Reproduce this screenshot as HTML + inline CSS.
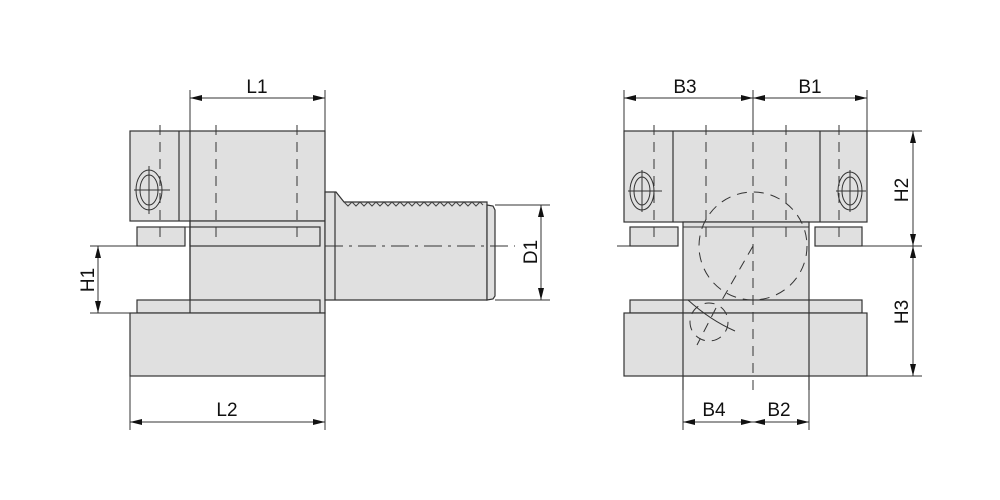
<!DOCTYPE html>
<html><head><meta charset="utf-8"><style>
html,body{margin:0;padding:0;background:#fff;}
svg{display:block;}
text{font-family:"Liberation Sans",sans-serif;font-size:19px;fill:#111;}
</style></head><body>
<svg width="1000" height="500" viewBox="0 0 1000 500" xmlns="http://www.w3.org/2000/svg">
<defs>
<marker id="a" viewBox="0 0 12 6" refX="12" refY="3" markerWidth="12" markerHeight="6" orient="auto-start-reverse" markerUnits="userSpaceOnUse"><path d="M0,0 L12,3 L0,6 z" fill="#111"/></marker>
</defs>
<g fill="#e0e0e0" stroke="#333" stroke-width="1.2">
<!-- LEFT VIEW -->
<rect x="130" y="131" width="195" height="90"/>
<line x1="179" y1="131" x2="179" y2="221"/>
<rect x="190" y="221" width="135" height="92"/>
<rect x="137" y="227" width="48" height="19"/>
<rect x="190" y="227" width="130" height="19"/>
<rect x="137" y="300" width="183" height="13"/>
<rect x="130" y="313" width="195" height="63"/>
<path d="M325,192 L336,192 L344,202 L487,202 L487,300 L325,300 Z"/>
<line x1="335" y1="192" x2="335" y2="300"/>
<path d="M487,205 L493,206 L495,210 L495,296 L493,299 L487,300 Z"/>
<line x1="190" y1="131" x2="190" y2="313"/>
<!-- RIGHT VIEW -->
<rect x="624" y="131" width="243" height="91"/>
<line x1="673" y1="131" x2="673" y2="222"/>
<line x1="820" y1="131" x2="820" y2="222"/>
<rect x="683" y="222" width="126" height="154"/>
<rect x="630" y="227" width="48" height="19"/>
<rect x="815" y="227" width="47" height="19"/>
<rect x="630" y="300" width="232" height="13"/>
<rect x="624" y="313" width="243" height="63"/>
<line x1="683" y1="300" x2="683" y2="390"/>
<line x1="809" y1="300" x2="809" y2="390"/>
</g>
<g fill="none" stroke="#333" stroke-width="1">
<path d="M344,202 l4,4 l4,-4 l4,4 l4,-4 l4,4 l4,-4 l4,4 l4,-4 l4,4 l4,-4 l4,4 l4,-4 l4,4 l4,-4 l4,4 l4,-4 l4,4 l4,-4 l4,4 l4,-4 l4,4 l4,-4 l4,4 l4,-4 l4,4 l4,-4 l4,4 l4,-4 l4,4 l4,-4 l4,4 l4,-4 l4,4 l4,-4 l3,3" stroke="#444"/>
<line x1="183" y1="227" x2="190" y2="227"/>
<line x1="683" y1="227" x2="809" y2="227"/>
<!-- bolts -->
<ellipse cx="149" cy="190" rx="13" ry="20"/><ellipse cx="149" cy="190" rx="9" ry="15"/>
<line x1="134" y1="190" x2="170" y2="190"/><line x1="149" y1="166" x2="149" y2="214"/>
<ellipse cx="642" cy="191" rx="12" ry="19"/><ellipse cx="642" cy="191" rx="8" ry="14"/>
<line x1="628" y1="191" x2="662" y2="191"/><line x1="642" y1="170" x2="642" y2="212"/>
<ellipse cx="850" cy="191" rx="12" ry="19"/><ellipse cx="850" cy="191" rx="8" ry="14"/>
<line x1="836" y1="191" x2="866" y2="191"/><line x1="850" y1="170" x2="850" y2="212"/>
</g>
<g fill="none" stroke="#333" stroke-width="1" stroke-dasharray="10,7">
<line x1="160" y1="125" x2="160" y2="240"/>
<line x1="216" y1="125" x2="216" y2="240"/>
<line x1="297" y1="125" x2="297" y2="240"/>
<line x1="654" y1="125" x2="654" y2="240"/>
<line x1="706" y1="125" x2="706" y2="240"/>
<line x1="786" y1="125" x2="786" y2="240"/>
<line x1="839" y1="125" x2="839" y2="240"/>
<line x1="753" y1="125" x2="753" y2="390"/>
<circle cx="753" cy="246" r="54"/>
<line x1="753" y1="246" x2="722" y2="300"/>
<circle cx="709" cy="322" r="19"/>
<line x1="716" y1="308" x2="697" y2="345"/>
</g>
<path d="M688,300 Q710,320 735,331" fill="none" stroke="#333"/>
<line x1="325" y1="246" x2="515" y2="246" stroke="#333" stroke-dasharray="18,6,3,6"/>
<!-- dimension lines -->
<g stroke="#333" stroke-width="1" fill="none">
<line x1="190" y1="90" x2="190" y2="131"/><line x1="325" y1="90" x2="325" y2="131"/>
<line x1="190" y1="98" x2="325" y2="98" marker-start="url(#a)" marker-end="url(#a)"/>
<line x1="130" y1="376" x2="130" y2="430"/><line x1="325" y1="376" x2="325" y2="430"/>
<line x1="130" y1="422" x2="325" y2="422" marker-start="url(#a)" marker-end="url(#a)"/>
<line x1="90" y1="246" x2="137" y2="246"/><line x1="90" y1="313" x2="130" y2="313"/>
<line x1="98" y1="246" x2="98" y2="313" marker-start="url(#a)" marker-end="url(#a)"/>
<line x1="495" y1="205" x2="550" y2="205"/><line x1="495" y1="300" x2="550" y2="300"/>
<line x1="541" y1="205" x2="541" y2="300" marker-start="url(#a)" marker-end="url(#a)"/>
<line x1="624" y1="90" x2="624" y2="131"/><line x1="753" y1="90" x2="753" y2="131"/><line x1="867" y1="90" x2="867" y2="131"/>
<line x1="624" y1="98" x2="753" y2="98" marker-start="url(#a)" marker-end="url(#a)"/>
<line x1="753" y1="98" x2="867" y2="98" marker-start="url(#a)" marker-end="url(#a)"/>
<line x1="867" y1="131" x2="922" y2="131"/><line x1="862" y1="246" x2="922" y2="246"/><line x1="867" y1="376" x2="922" y2="376"/>
<line x1="617" y1="246" x2="630" y2="246"/>
<line x1="913" y1="131" x2="913" y2="246" marker-start="url(#a)" marker-end="url(#a)"/>
<line x1="913" y1="246" x2="913" y2="376" marker-start="url(#a)" marker-end="url(#a)"/>
<line x1="683" y1="376" x2="683" y2="430"/><line x1="809" y1="376" x2="809" y2="430"/>
<line x1="683" y1="422" x2="753" y2="422" marker-start="url(#a)" marker-end="url(#a)"/>
<line x1="753" y1="422" x2="809" y2="422" marker-start="url(#a)" marker-end="url(#a)"/>
</g>
<text x="257" y="93" text-anchor="middle">L1</text>
<text x="227" y="416" text-anchor="middle">L2</text>
<text x="685" y="93" text-anchor="middle">B3</text>
<text x="810" y="93" text-anchor="middle">B1</text>
<text x="714" y="416" text-anchor="middle">B4</text>
<text x="779" y="416" text-anchor="middle">B2</text>
<text transform="translate(94,280) rotate(-90)" text-anchor="middle">H1</text>
<text transform="translate(537,252) rotate(-90)" text-anchor="middle">D1</text>
<text transform="translate(908,190) rotate(-90)" text-anchor="middle">H2</text>
<text transform="translate(908,312) rotate(-90)" text-anchor="middle">H3</text>
</svg>
</body></html>
